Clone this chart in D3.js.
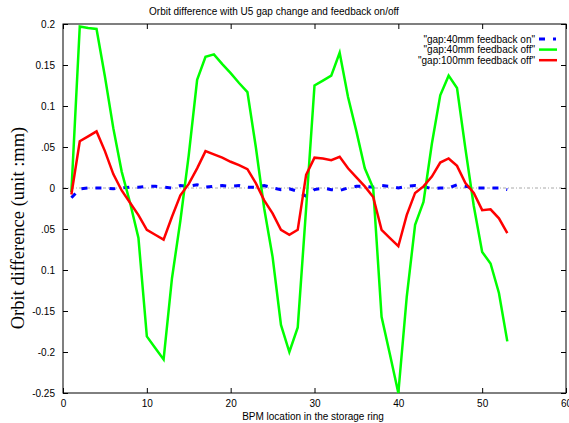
<!DOCTYPE html>
<html><head><meta charset="utf-8">
<script src="https://cdn.jsdelivr.net/npm/d3@7"></script>
<style>body{margin:0;background:#fff}svg{display:block}</style>
</head><body>
<svg id="c" width="569" height="423"></svg>
<script>
const bpm = d3.range(1, 54);
const fbOn40 = [-0.012,-0.001,0.000,0.000,0.000,-0.001,0.000,0.001,0.001,0.002,0.002,0.001,0.000,0.003,0.002,0.004,0.001,0.002,0.003,0.002,0.003,0.001,0.001,0.003,0.000,-0.002,-0.001,-0.004,-0.010,-0.002,0.000,-0.002,-0.003,0.000,0.002,0.002,0.001,0.003,0.002,0.000,0.002,0.003,0.002,-0.001,0.000,0.000,0.004,0.002,0.000,0.000,0.000,0.000,-0.002];
const fbOff40 = [-0.005,0.197,0.195,0.194,0.136,0.073,0.020,-0.018,-0.061,-0.181,-0.195,-0.209,-0.110,-0.040,0.040,0.132,0.160,0.163,0.151,0.140,0.128,0.117,0.050,-0.025,-0.084,-0.167,-0.200,-0.170,-0.025,0.125,0.131,0.137,0.165,0.111,0.069,0.024,0.000,-0.157,-0.203,-0.250,-0.133,-0.045,-0.017,0.054,0.113,0.137,0.122,0.048,-0.022,-0.078,-0.092,-0.128,-0.187];
const fbOff100 = [-0.008,0.057,0.063,0.069,0.045,0.017,-0.003,-0.018,-0.033,-0.051,-0.057,-0.063,-0.035,-0.009,0.005,0.024,0.045,0.041,0.037,0.032,0.028,0.023,0.006,-0.015,-0.031,-0.051,-0.057,-0.051,0.016,0.037,0.036,0.034,0.038,0.024,0.013,0.002,-0.011,-0.051,-0.061,-0.071,-0.033,-0.006,0.002,0.014,0.031,0.036,0.027,0.006,-0.006,-0.027,-0.026,-0.037,-0.055];
const xTicks = [0,10,20,30,40,50,60];
const xTickLabels = ["0","10","20","30","40","50","60"];
const yTicks = [0.2,0.15,0.1,0.05,0,-0.05,-0.1,-0.15,-0.2,-0.25];
const yTickLabels = ["0.2","0.15","0.1",".05","0",".05","0.1","-0.15","-0.2","-0.25"];
const seriesNames = ['"gap:40mm feedback on"','"gap:40mm feedback off"','"gap:100mm feedback off"'];

const svg = d3.select("#c");
const L = 63, R = 566, T = 24, B = 393;
const x = d3.scaleLinear().domain([0,60]).range([L,R]);
const y = d3.scaleLinear().domain([-0.25,0.2]).range([B,T]);
const font = "Liberation Sans, Arial, sans-serif";

// title
svg.append("text").attr("x",274).attr("y",15).attr("text-anchor","middle")
  .attr("font-family",font).attr("font-size",10).text("Orbit difference with U5 gap change and feedback on/off");

// zero line
svg.append("line").attr("x1",L).attr("x2",R).attr("y1",y(0)).attr("y2",y(0))
  .attr("stroke","#a8a8a8").attr("stroke-width",1).attr("stroke-dasharray","3,2,1,2");

// axes
const gx = svg.append("g").attr("transform",`translate(0,${B})`)
  .call(d3.axisBottom(x).tickValues(xTicks).tickFormat((d,i)=>xTickLabels[i]).tickSizeInner(-5).tickSizeOuter(0).tickPadding(8));
const gxt = svg.append("g").attr("transform",`translate(0,${T})`)
  .call(d3.axisTop(x).tickValues(xTicks).tickFormat("").tickSizeInner(-5).tickSizeOuter(0));
const gy = svg.append("g").attr("transform",`translate(${L},0)`)
  .call(d3.axisLeft(y).tickValues(yTicks).tickFormat((d,i)=>yTickLabels[i]).tickSizeInner(-5).tickSizeOuter(0).tickPadding(8));
const gyr = svg.append("g").attr("transform",`translate(${R},0)`)
  .call(d3.axisRight(y).tickValues(yTicks).tickFormat("").tickSizeInner(-5).tickSizeOuter(0));
[gx,gxt,gy,gyr].forEach(g=>{
  g.select(".domain").remove();
  g.selectAll("line").attr("stroke","#000");
  g.selectAll("text").attr("font-family",font).attr("font-size",10).attr("fill","#000");
});
gx.selectAll("text").attr("dy","0.6em");
svg.append("rect").attr("x",L).attr("y",T).attr("width",R-L).attr("height",B-T)
  .attr("fill","none").attr("stroke","#000").attr("stroke-width",1);

// axis labels
svg.append("text").attr("x",313).attr("y",420).attr("text-anchor","middle")
  .attr("font-family",font).attr("font-size",10).text("BPM location in the storage ring");
svg.append("text").attr("transform","translate(24,228) rotate(-90)").attr("text-anchor","middle")
  .attr("font-family","Liberation Serif, Times New Roman, serif").attr("font-size",18.5)
  .text("Orbit difference (unit :mm)");

// lines
const line = d3.line().x((d,i)=>x(bpm[i])).y(d=>y(d));
const styles = [
  {data:fbOn40, color:"#0000ff", dash:"6,8", w:3},
  {data:fbOff40, color:"#00ff00", dash:null, w:2.5},
  {data:fbOff100, color:"#ff0000", dash:null, w:2.5}
];
const plot = svg.append("g");
styles.forEach(s=>{
  plot.append("path").datum(s.data).attr("d",line).attr("fill","none")
    .attr("stroke",s.color).attr("stroke-width",s.w).attr("stroke-linejoin","miter")
    .attr("stroke-dasharray",s.dash);
});

// legend
seriesNames.forEach((n,i)=>{
  const yy = 39 + i*10.6;
  svg.append("text").attr("x",535).attr("y",yy+3.5).attr("text-anchor","end")
    .attr("font-family",font).attr("font-size",10).text(n);
  svg.append("line").attr("x1",539).attr("x2",557).attr("y1",yy).attr("y2",yy)
    .attr("stroke",styles[i].color).attr("stroke-width",styles[i].w)
    .attr("stroke-dasharray",i===0?"6,8,3,20":null);
});
</script>
</body></html>
